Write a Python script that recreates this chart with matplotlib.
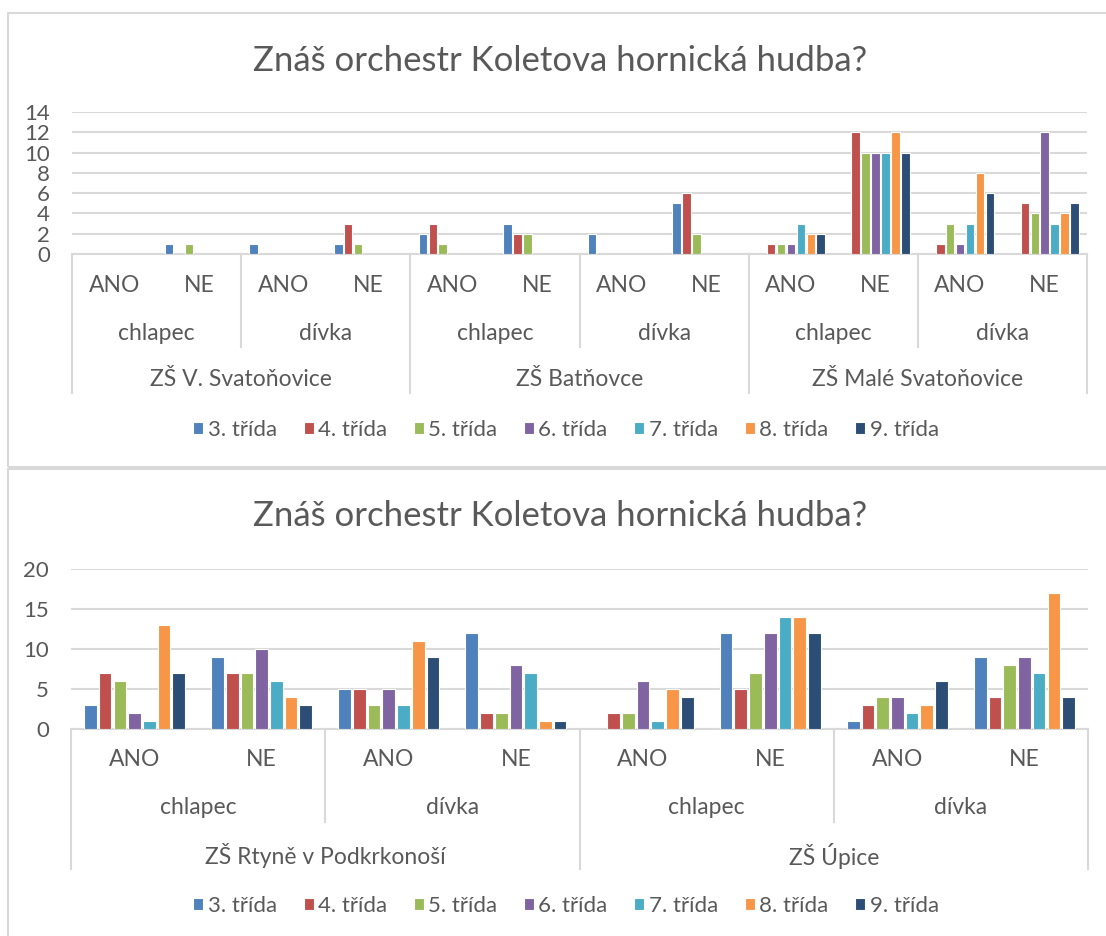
import numpy as np
import matplotlib
matplotlib.use('Agg')
import matplotlib.pyplot as plt
import matplotlib.transforms as mtransforms
from matplotlib.patches import Rectangle
from matplotlib.lines import Line2D

plt.rcParams['font.family'] = ['Lato', 'DejaVu Sans']

# series (grades)
grades = ['3. třída', '4. třída', '5. třída', '6. třída', '7. třída', '8. třída', '9. třída']
colors = ['#4F81BD', '#C0504D', '#9BBB59', '#8064A2', '#4BACC6', '#F79646', '#2C4D75']

title = 'Znáš orchestr Koletova hornická hudba?'

# top chart categories
top_answers = ['ANO', 'NE'] * 6
top_genders = ['chlapec', 'dívka'] * 3
top_schools = ['ZŠ V. Svatoňovice', 'ZŠ Batňovce', 'ZŠ Malé Svatoňovice']

top_3 = [0, 1, 1, 1, 2, 3, 2, 5, 0, 0, 0, 0]
top_4 = [0, 0, 0, 3, 3, 2, 0, 6, 1, 12, 1, 5]
top_5 = [0, 1, 0, 1, 1, 2, 0, 2, 1, 10, 3, 4]
top_6 = [0, 0, 0, 0, 0, 0, 0, 0, 1, 10, 1, 12]
top_7 = [0, 0, 0, 0, 0, 0, 0, 0, 3, 10, 3, 3]
top_8 = [0, 0, 0, 0, 0, 0, 0, 0, 2, 12, 8, 4]
top_9 = [0, 0, 0, 0, 0, 0, 0, 0, 2, 10, 6, 5]
top_ticks = [0, 2, 4, 6, 8, 10, 12, 14]

# bottom chart categories
bot_answers = ['ANO', 'NE'] * 4
bot_genders = ['chlapec', 'dívka'] * 2
bot_schools = ['ZŠ Rtyně v Podkrkonoší', 'ZŠ Úpice']

bot_3 = [3, 9, 5, 12, 0, 12, 1, 9]
bot_4 = [7, 7, 5, 2, 2, 5, 3, 4]
bot_5 = [6, 7, 3, 2, 2, 7, 4, 8]
bot_6 = [2, 10, 5, 8, 6, 12, 4, 9]
bot_7 = [1, 6, 3, 7, 1, 14, 2, 7]
bot_8 = [13, 4, 11, 1, 5, 14, 3, 17]
bot_9 = [7, 3, 9, 1, 4, 12, 6, 4]
bot_ticks = [0, 5, 10, 15, 20]

W, H = 1106, 936
TXT = '#595959'
GRID = '#D9D9D9'
LABEL_SIZE = 16.5

fig = plt.figure(figsize=(W / 100, H / 100), dpi=100)


def fy(y):
    # pixel row -> figure fraction
    return 1 - y / H


def draw_chart(series, answers, genders, schools, ticks, box, rows, group_w):
    x0, x1, y_zero, y_top = box
    ax = fig.add_axes([x0 / W, fy(y_zero), (x1 - x0) / W, (y_zero - y_top) / H])
    n = len(answers)
    x = np.arange(n)
    slot = group_w / len(series)
    bars = []
    for i, vals in enumerate(series):
        v = np.array(vals, dtype=float)
        v[v == 0] = np.nan
        b = ax.bar(x + (i - 3) * slot, v, width=slot * 0.86, color=colors[i],
                   edgecolor='white', linewidth=0.8, zorder=3, label=grades[i])
        bars.append(b)
    ax.set_xlim(-0.5, n - 0.5)
    ax.set_ylim(ticks[0], ticks[-1])
    ax.set_yticks(ticks)
    ax.set_xticks([])
    ax.yaxis.grid(True, color=GRID, linewidth=1.5, zorder=0)
    ax.set_axisbelow(True)
    for s in ['top', 'right', 'left']:
        ax.spines[s].set_visible(False)
    ax.spines['bottom'].set_color(GRID)
    ax.spines['bottom'].set_linewidth(1.5)
    ax.tick_params(axis='y', length=0, labelsize=16, labelcolor=TXT, pad=16)

    # multi level category labels below the axis
    tr = mtransforms.blended_transform_factory(ax.transData, fig.transFigure)
    lab1, lab2, lab3, sep2, sep3 = rows
    for i, a in enumerate(answers):
        ax.text(i, fy(lab1), a, transform=tr, ha='center', va='center', fontsize=LABEL_SIZE, color=TXT)
    for j, g in enumerate(genders):
        ax.text(2 * j + 0.5, fy(lab2), g, transform=tr, ha='center', va='center', fontsize=LABEL_SIZE, color=TXT)
    for k, s in enumerate(schools):
        ax.text(4 * k + 1.5, fy(lab3), s, transform=tr, ha='center', va='center', fontsize=LABEL_SIZE, color=TXT)
    for j in range(len(genders)):
        if j % 2 == 1:
            xs = 2 * j - 0.5
            fig.add_artist(Line2D([xs, xs], [fy(y_zero), fy(sep2)], transform=tr, color=GRID, lw=1.5))
    for k in range(len(schools) + 1):
        xs = 4 * k - 0.5
        fig.add_artist(Line2D([xs, xs], [fy(y_zero), fy(sep3)], transform=tr, color=GRID, lw=1.5))
    return ax, bars


top_series = [top_3, top_4, top_5, top_6, top_7, top_8, top_9]
bot_series = [bot_3, bot_4, bot_5, bot_6, bot_7, bot_8, bot_9]

ax1, bars1 = draw_chart(top_series, top_answers, top_genders, top_schools, top_ticks,
                        (72, 1087, 254, 112), (285, 333, 379, 347, 393), 0.82)
ax2, bars2 = draw_chart(bot_series, bot_answers, bot_genders, bot_schools, bot_ticks,
                        (71, 1088, 729, 569), (760, 808, 856, 822, 869), 0.81)

# titles
fig.text(560 / W, fy(61), title, ha='center', va='center', fontsize=25, color=TXT)
fig.text(560 / W, fy(516), title, ha='center', va='center', fontsize=25, color=TXT)

# legends
for bars, ly in [(bars1, 430), (bars2, 906)]:
    fig.legend(handles=bars, labels=grades, loc='center', bbox_to_anchor=(566 / W, fy(ly)),
               ncol=7, frameon=False, fontsize=16, labelcolor=TXT, handlelength=0.45,
               handleheight=0.45, handletextpad=0.2, columnspacing=1.2)

# chart area borders
fig.add_artist(Rectangle((8 / W, fy(467)), 1.2, (467 - 13) / H, transform=fig.transFigure,
                         fill=False, edgecolor=GRID, lw=1.5))
fig.add_artist(Rectangle((8 / W, fy(940)), 1.2, (940 - 469) / H, transform=fig.transFigure,
                         fill=False, edgecolor=GRID, lw=1.5))

fig.savefig('out.png', dpi=100)
